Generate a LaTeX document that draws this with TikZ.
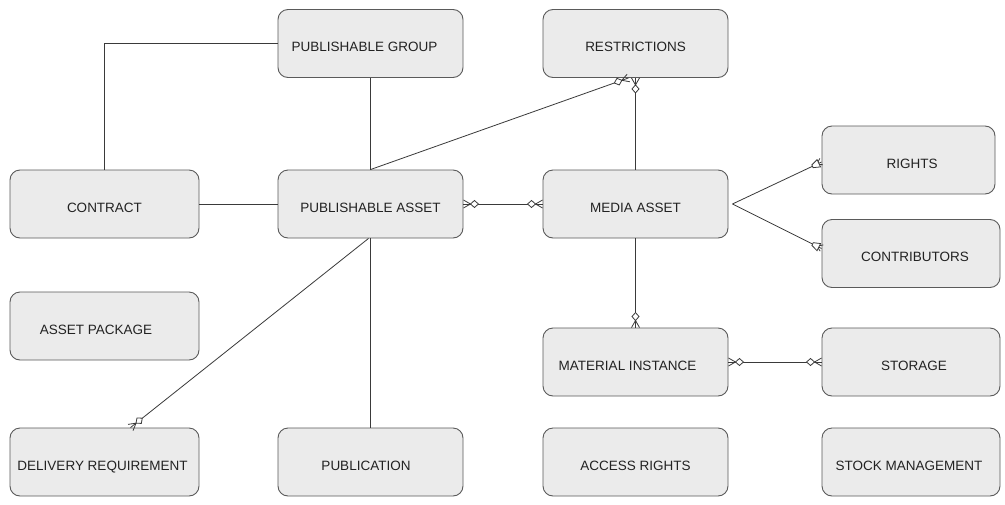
\documentclass[tikz,border=0pt]{standalone}
\usepackage{fontspec}
\setmainfont{Liberation Sans}
\usetikzlibrary{decorations.markings}
\definecolor{boxfill}{HTML}{EBEBEB}
\definecolor{boxline}{HTML}{5A5A5A}
\definecolor{connline}{HTML}{3A3A3A}
\definecolor{labeltext}{HTML}{222222}
\tikzset{
  entity/.style={draw=boxline, fill=boxfill, line width=0.9pt, rounded corners=10pt,
    minimum height=68pt, inner sep=0pt, text=labeltext,
    text height=16pt, text depth=0pt,
    font=\fontsize{13.5}{16}\selectfont},
  conn/.style={draw=connline, line width=0.8pt},
  % crow's foot with open diamond at the end of a connector
  crowend/.style={postaction={decorate, decoration={markings,
    mark=at position 1 with {
      \draw[conn] (-7pt,0) -- (0,4pt) (-7pt,0) -- (0,-4pt);
      \draw[conn, fill=white] (-7pt,0) -- (-11pt,3.5pt) -- (-15pt,0) -- (-11pt,-3.5pt) -- cycle;
    }}}},
  % the same marker at the start of a connector
  crowstart/.style={postaction={decorate, decoration={markings,
    mark=at position 0 with {
      \draw[conn] (7pt,0) -- (0,4pt) (7pt,0) -- (0,-4pt);
      \draw[conn, fill=white] (7pt,0) -- (11pt,3.5pt) -- (15pt,0) -- (11pt,-3.5pt) -- cycle;
    }}}},
  % small flag marker used on the media asset branches
  flagend/.style={postaction={decorate, decoration={markings,
    mark=at position 1 with {
      \draw[conn] (-5pt,0) -- (0,4pt) (-5pt,0) -- (0,-3pt);
      \draw[conn, fill=white] (-3pt,-4pt) -- (-3pt,4pt) -- (-10pt,1.5pt) -- (-10pt,-1.5pt) -- cycle;
    }}}},
}
\begin{document}
\begin{tikzpicture}[x=1pt, y=-1pt]
  \useasboundingbox[fill=white] (0,0) rectangle (1005,504);

  % entities
  \node[entity, minimum width=185pt] (pg) at (370.5,43.5) {\hspace*{-12pt}PUBLISHABLE GROUP};
  \node[entity, minimum width=185pt] (rs) at (635.5,43.5) {RESTRICTIONS};
  \node[entity, minimum width=189pt] (ct) at (104.5,204) {CONTRACT};
  \node[entity, minimum width=185pt] (pa) at (370.5,204) {PUBLISHABLE ASSET};
  \node[entity, minimum width=185pt] (ma) at (635.5,204) {MEDIA ASSET};
  \node[entity, minimum width=173pt] (ri) at (908.5,160) {\hspace*{7pt}RIGHTS};
  \node[entity, minimum width=178pt] (co) at (911,253.5) {\hspace*{8pt}CONTRIBUTORS};
  \node[entity, minimum width=189pt] (ap) at (104.5,326) {\hspace*{-17pt}ASSET PACKAGE};
  \node[entity, minimum width=185pt] (mi) at (635.5,362) {\hspace*{-16pt}MATERIAL INSTANCE};
  \node[entity, minimum width=178pt] (st) at (911,362) {\hspace*{6pt}STORAGE};
  \node[entity, minimum width=189pt] (dr) at (104.5,462) {\hspace*{-4pt}DELIVERY REQUIREMENT};
  \node[entity, minimum width=185pt] (pu) at (370.5,462) {\hspace*{-9pt}PUBLICATION};
  \node[entity, minimum width=185pt] (ar) at (635.5,462) {ACCESS RIGHTS};
  \node[entity, minimum width=178pt] (sm) at (911,462) {\hspace*{-4pt}STOCK MANAGEMENT};

  % connector anchors off the box centres
  \coordinate (rsdiag) at ([xshift=-7pt]rs.south);
  \coordinate (maright) at ([xshift=4pt]ma.east);
  \coordinate (rileft) at ([yshift=-2pt]ri.west);
  \coordinate (coleft) at ([yshift=5pt]co.west);
  \coordinate (drtop) at ([xshift=26pt]dr.north);
  \coordinate (pafoot) at ([xshift=-2pt]pa.south);

  % relationships
  \draw[conn] (pg.west) -| (ct.north);
  \draw[conn] (pg.south) -- (pa.north);
  \draw[conn] (ct.east) -- (pa.west);
  \draw[conn, crowstart, crowend] (pa.east) -- (ma.west);
  \draw[conn, crowend] (pa.north) -- (rsdiag);
  \draw[conn, crowend] (ma.north) -- (rs.south);
  \draw[conn, flagend] (maright) -- (rileft);
  \draw[conn, flagend] (maright) -- (coleft);
  \draw[conn, crowend] (ma.south) -- (mi.north);
  \draw[conn, crowstart, crowend] (mi.east) -- (st.west);
  \draw[conn] (pa.south) -- (pu.north);
  \draw[conn, crowend] (pafoot) -- (drtop);
\end{tikzpicture}
\end{document}
